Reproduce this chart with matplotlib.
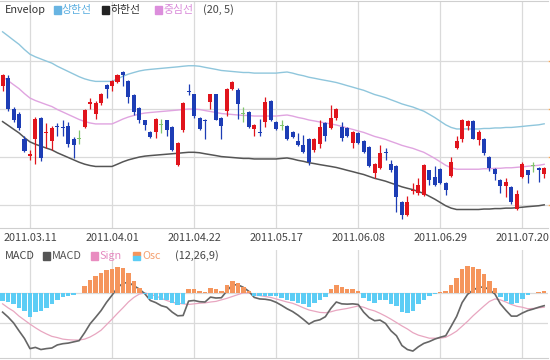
import matplotlib
matplotlib.use("Agg")
import matplotlib.pyplot as plt
from matplotlib.patches import Rectangle
import numpy as np

plt.rcParams['font.family'] = ['Noto Sans CJK KR', 'DejaVu Sans']

date_labels = ["2011.03.11", "2011.04.01", "2011.04.22", "2011.05.17",
               "2011.06.08", "2011.06.29", "2011.07.20"]
date_pos = [5, 20, 35, 50, 65, 80, 95]

# daily candles (100 sessions)
opens = [9240, 9320, 9000, 8950, 8690, 8510, 8690, 8910, 8750, 8670,
         8820, 8810, 8820, 8690, 8690, 8810, 9050, 8950, 9060, 9250,
         9240, 9280, 9380, 9290, 9140, 9010, 8880, 8760, 8760, 8840,
         8880, 8810, 8420, 8780, 9190, 9150, 8910, 8890, 9070, 9150,
         8910, 8980, 9210, 9200, 8950, 8970, 8790, 8760, 8860, 9080,
         8860, 8830, 8820, 8760, 8670, 8620, 8690, 8570, 8640, 8850,
         8800, 8910, 8810, 8800, 8650, 8750, 8670, 8600, 8330, 8390,
         8550, 8430, 8410, 8030, 7900, 8150, 8130, 8100, 8360, 8290,
         8380, 8230, 8300, 8590, 8690, 8820, 8870, 8680, 8690, 8500,
         8380, 8260, 8200, 8190, 7960, 8290, 8360, 8410, 8390, 8320]
highs = [9360, 9350, 9020, 8970, 8720, 8570, 8920, 8920, 8850, 8820,
         8850, 8880, 8860, 8710, 8780, 9000, 9110, 9080, 9170, 9260,
         9300, 9360, 9390, 9300, 9150, 9020, 8890, 8770, 8910, 8900,
         8890, 8820, 8660, 9070, 9260, 9160, 8920, 8900, 9160, 9160,
         8920, 9220, 9290, 9220, 9020, 8980, 8840, 8900, 9120, 9090,
         8870, 8880, 8830, 8770, 8750, 8730, 8700, 8700, 8880, 8860,
         9040, 9010, 8860, 8810, 8770, 8760, 8680, 8610, 8440, 8620,
         8590, 8470, 8420, 8040, 8090, 8230, 8280, 8430, 8370, 8410,
         8390, 8240, 8500, 8720, 8900, 8880, 8880, 8780, 8700, 8510,
         8390, 8270, 8280, 8200, 8160, 8450, 8370, 8450, 8400, 8400]
lows = [9190, 8980, 8860, 8780, 8550, 8470, 8430, 8460, 8590, 8570,
        8720, 8720, 8600, 8490, 8640, 8800, 9000, 8900, 9040, 9110,
        9190, 9270, 9240, 9060, 8940, 8850, 8780, 8700, 8700, 8750,
        8720, 8560, 8410, 8760, 9140, 8910, 8780, 8690, 9000, 8880,
        8690, 8930, 9200, 8900, 8860, 8800, 8720, 8720, 8810, 8870,
        8780, 8780, 8680, 8700, 8610, 8540, 8420, 8550, 8590, 8670,
        8790, 8880, 8670, 8710, 8590, 8640, 8540, 8400, 8280, 8380,
        8470, 8340, 7930, 7860, 7890, 8120, 8100, 8090, 8210, 8200,
        8220, 8100, 8290, 8580, 8660, 8780, 8690, 8620, 8520, 8350,
        8260, 8130, 8080, 8010, 7950, 8280, 8230, 8340, 8240, 8280]
closes = [9350, 9000, 8880, 8800, 8560, 8530, 8900, 8490, 8760, 8800,
          8810, 8800, 8640, 8630, 8690, 8990, 9070, 9060, 9160, 9210,
          9290, 9350, 9350, 9120, 8970, 8880, 8830, 8710, 8900, 8840,
          8780, 8570, 8650, 9060, 9180, 8930, 8790, 8870, 9150, 8890,
          8820, 9210, 9280, 9050, 8950, 8810, 8830, 8750, 9070, 8880,
          8790, 8830, 8690, 8710, 8620, 8550, 8450, 8690, 8810, 8720,
          8910, 9000, 8700, 8720, 8760, 8650, 8550, 8410, 8430, 8540,
          8540, 8370, 8080, 7900, 8030, 8160, 8210, 8420, 8260, 8210,
          8230, 8160, 8450, 8670, 8890, 8870, 8690, 8760, 8540, 8390,
          8320, 8200, 8240, 8030, 8120, 8430, 8310, 8410, 8360, 8390]

# envelope (20, 5) centre line
env_mid = [9335, 9294, 9252, 9211, 9159, 9113, 9087, 9066, 9045, 9025,
           8994, 8968, 8942, 8916, 8890, 8869, 8854, 8844, 8844, 8844,
           8844, 8869, 8895, 8916, 8932, 8947, 8957, 8963, 8968, 8973,
           8978, 8983, 8988, 8994, 8999, 8999, 8994, 8983, 8973, 8963,
           8952, 8947, 8942, 8937, 8932, 8932, 8926, 8926, 8926, 8926,
           8926, 8932, 8937, 8926, 8911, 8900, 8885, 8875, 8864, 8854,
           8844, 8833, 8818, 8802, 8787, 8771, 8756, 8735, 8714, 8699,
           8683, 8662, 8642, 8621, 8605, 8590, 8569, 8549, 8518, 8486,
           8450, 8414, 8388, 8373, 8373, 8373, 8373, 8373, 8378, 8378,
           8383, 8383, 8388, 8388, 8393, 8398, 8404, 8409, 8414, 8424]

# MACD (12,26,9): signal line and oscillator
signal = [-18, -24.5, -30, -38, -44.5, -51, -57, -62.5, -67, -71,
          -73, -75.5, -76.5, -77, -77, -75.5, -72, -67, -61, -52,
          -43, -33.5, -24.5, -15, -7.5, -2, 0, -3, -5, -9,
          -12.5, -15.5, -17, -18, -19, -18, -17, -16.5, -15, -14,
          -11.5, -9, -6, -3, 0, 0, -3, -4.5, -6, -7.5,
          -10, -12.5, -15, -17, -20.5, -24.5, -28, -30, -32, -32.5,
          -31, -28.5, -27, -25.5, -23.5, -21.5, -23.5, -27, -29.5, -33.5,
          -38, -43, -48.5, -54, -59, -65, -69, -71.5, -74, -74,
          -74, -72.5, -68, -62.5, -54.5, -46.5, -37.5, -29.5, -21.5, -14,
          -10, -11.5, -15, -19, -22, -23.5, -26, -25.5, -24.5, -23.5]
osc = [-13.5, -15, -19, -24, -30, -40, -32, -30, -24, -19,
       -12, -7.5, -5.5, -3, -1, 10.5, 21.5, 27, 32, 36.5,
       39, 42, 40, 32, 19, 8, -1.5, -9.5, -11, -12,
       -11, -16, -20.5, -19, 5.5, 5.5, 2.5, 1.5, 8, 5.5,
       3.5, 12, 19, 16, 9, 2.5, -4.5, -5.5, -4.5, -4.5,
       -5.5, -8, -11, -13.5, -16, -19, -23, -16, -12, -6.5,
       5.5, 13.5, 9, 7, 5.5, 2.5, -8, -13.5, -16, -11,
       -12, -19, -21.5, -32, -33.5, -30, -19, -11, -5.5, -1.5,
       1.5, 2.5, 13.5, 24, 38.5, 44, 42, 38.5, 31, 19,
       8, -6.5, -13.5, -19, -16, -9.5, -3, -1, 1, 2.5]

x = np.arange(len(opens))
o = np.array(opens)
h = np.array(highs)
l = np.array(lows)
c = np.array(closes)
mid = np.array(env_mid)
sig = np.array(signal)
osc = np.array(osc)
macd = sig + osc

colors = np.where(c > o, '#e0141c', np.where(c < o, '#1d3db5', '#80c46c'))
grid_col = '#dadada'

fig = plt.figure(figsize=(5.5, 3.6), dpi=100)

# price panel
ax = fig.add_axes([0, 1 - 228 / 360, 548 / 550, 227 / 360])
ax.set_xlim(-0.475, 99.7)
ax.set_ylim(7762, 10122)
ax.set_yticks([8000, 8500, 9000, 9500])
ax.set_yticklabels([])
ax.set_xticks(date_pos)
ax.set_xticklabels(date_labels)
ax.grid(True, color=grid_col, lw=0.9, zorder=0)
ax.tick_params(axis='x', length=0, pad=3.5, labelsize=7.8, labelcolor='#444444')
ax.tick_params(axis='y', left=False, right=True, length=3, color='#f0a860', width=1)
for s in ['left', 'right']:
    ax.spines[s].set_visible(False)
for s in ['top', 'bottom']:
    ax.spines[s].set_color('#cfcfcf')

ax.plot(x, mid * 1.05, color='#8fc6dc', lw=1.0, zorder=2)
ax.plot(x, mid * 0.95, color='#555555', lw=1.1, zorder=2)
ax.plot(x, mid, color='#e0a4e0', lw=1.0, zorder=2)

ax.vlines(x, l, h, colors=colors, lw=0.9, zorder=3)
body = np.abs(c - o)
bottom = np.where(body == 0, o - 5, np.minimum(o, c))
ax.bar(x, np.maximum(body, 10), bottom=bottom, width=0.74, color=colors, zorder=4)

# MACD panel
ax2 = fig.add_axes([0, 2 / 360, 548 / 550, 108 / 360])
ax2.set_xlim(-0.475, 99.7)
ax2.set_ylim(-106.3, 69.8)
ax2.set_yticks([-50, 0])
ax2.set_yticklabels([])
ax2.set_xticks(date_pos)
ax2.set_xticklabels([])
ax2.grid(True, color=grid_col, lw=0.9, zorder=0)
ax2.tick_params(length=0)
for s in ['left', 'right', 'top']:
    ax2.spines[s].set_visible(False)
ax2.spines['bottom'].set_color('#cfcfcf')

ax2.plot(x, sig, color='#e8a6c0', lw=0.9, zorder=2)
ax2.plot(x, macd, color='#666666', lw=1.2, zorder=2)
bar_cols = np.where(osc >= 0, '#f5955c', '#5ccdf5')
ax2.bar(x, osc, width=0.82, color=bar_cols, zorder=3)


def px(xp, yp):
    return xp / 550, 1 - yp / 360


def square(x0, y0, col, w=7, hgt=8):
    fx, fy = px(x0, y0 + hgt)
    fig.add_artist(Rectangle((fx, fy), w / 550, hgt / 360, color=col,
                             transform=fig.transFigure))


fs = 7.8
# envelope legend
ty = 10
fig.text(*px(5, ty), "Envelop", color='#333333', fontsize=fs, va='center')
square(54, ty - 4, '#68b4e2')
fig.text(*px(62, ty), "상한선", color='#5aaee0', fontsize=fs, va='center')
square(102, ty - 4, '#222222')
fig.text(*px(111, ty), "하한선", color='#333333', fontsize=fs, va='center')
square(155, ty - 4, '#dc8edc')
fig.text(*px(163, ty), "중심선", color='#d98ad9', fontsize=fs, va='center')
fig.text(*px(203, ty), "(20, 5)", color='#444444', fontsize=fs, va='center')

# MACD legend
my = 256
fig.text(*px(5, my), "MACD", color='#444444', fontsize=fs, va='center')
square(43, my - 4, '#555555')
fig.text(*px(52, my), "MACD", color='#555555', fontsize=fs, va='center')
square(91, my - 4, '#e98cc0')
fig.text(*px(100, my), "Sign", color='#e58bc0', fontsize=fs, va='center')
square(133, my - 4, '#f5955c', hgt=4)
square(133, my, '#5ccdf5', hgt=4)
fig.text(*px(142, my), "Osc", color='#f4a070', fontsize=fs, va='center')
fig.text(*px(175, my), "(12,26,9)", color='#444444', fontsize=fs, va='center')

fig.savefig("out.png", dpi=100)
